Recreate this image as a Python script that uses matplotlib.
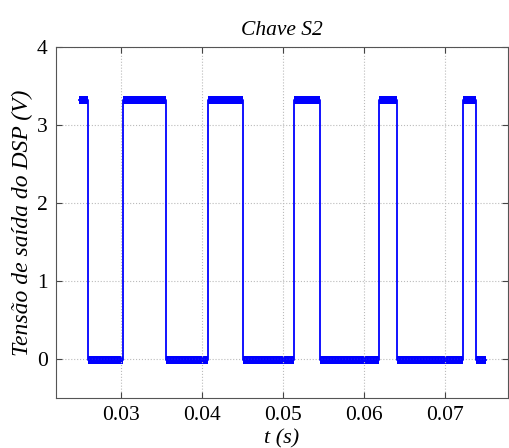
import matplotlib.pyplot as plt
import numpy as np

# switching instants of S2 (s) and the DSP output level after each one
t_edges = [0.02483, 0.02597, 0.03028, 0.03554, 0.04075, 0.04499,
           0.05131, 0.05451, 0.06181, 0.06408, 0.07216, 0.07381, 0.07495]
state = [1, 0, 1, 0, 1, 0, 1, 0, 1, 0, 1, 0]

# ripple band of each logic level (V)
high_band = [3.27, 3.375]
low_band = [-0.06, 0.035]
v_high = 3.32
v_low = -0.01

xticks = [0.03, 0.04, 0.05, 0.06, 0.07]
yticks = [0, 1, 2, 3, 4]

plt.rcParams['font.family'] = ['Liberation Serif', 'DejaVu Serif']

fig = plt.figure(figsize=(5.09, 4.48), dpi=100)
ax = fig.add_axes([0.110, 0.112, 0.888, 0.783])

# square wave
xs, ys = [], []
for i, s in enumerate(state):
    v = v_high if s else v_low
    xs += [t_edges[i], t_edges[i + 1]]
    ys += [v, v]
ax.plot(xs, ys, color='#0000ff', lw=1.3)

# noise band on top of every level
for i, s in enumerate(state):
    lo, hi = high_band if s else low_band
    ax.fill_between([t_edges[i], t_edges[i + 1]], lo, hi,
                    color='#0000ff', lw=0)

ax.set_xlim(0.0220, 0.0777)
ax.set_ylim(-0.5, 4)
ax.set_xticks(xticks)
ax.set_xticklabels([f'{t:g}' for t in xticks])
ax.set_yticks(yticks)
ax.tick_params(direction='in', top=True, right=True, labelsize=15.5,
               length=4, color='#444444', pad=6)
ax.grid(True, linestyle=':', color='#bbbbbb', lw=0.8)
for sp in ax.spines.values():
    sp.set_color('#555555')

ax.set_title('Chave S2', style='italic', fontsize=15.5, pad=9)
ax.set_xlabel('t (s)', style='italic', fontsize=16, labelpad=3)
ax.set_ylabel('Tensão de saída do DSP (V)', style='italic', fontsize=17,
              labelpad=3)

fig.savefig('out.png', dpi=100)
